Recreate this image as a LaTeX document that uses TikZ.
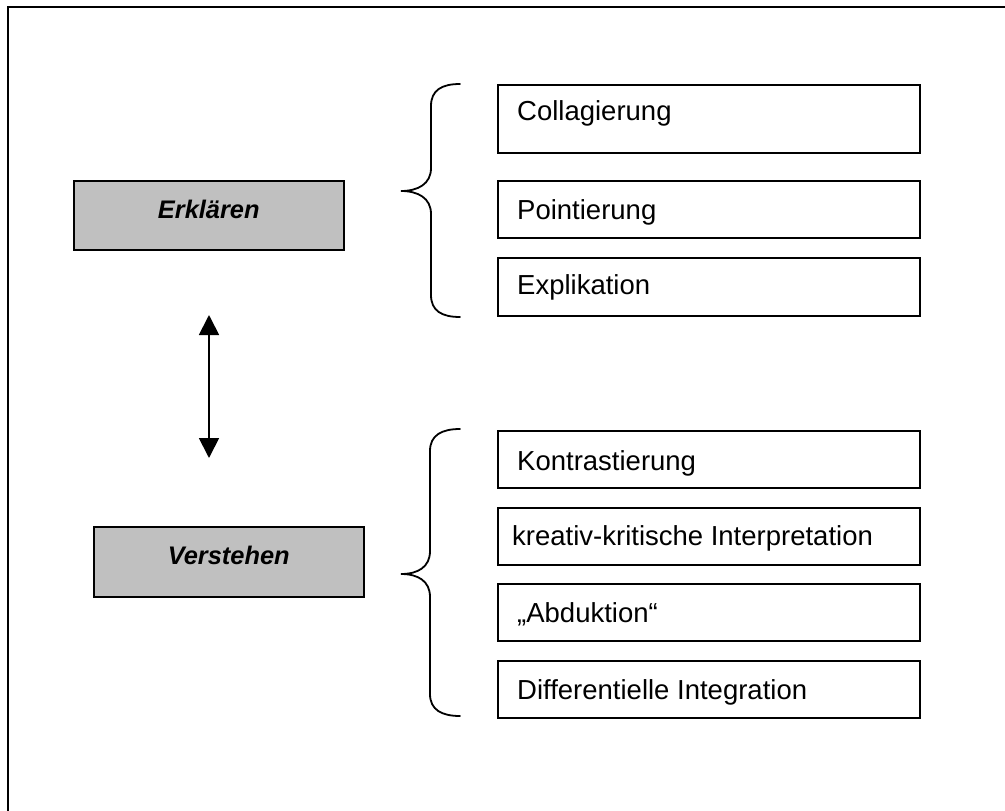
\documentclass[tikz,border=0pt]{standalone}
\usepackage{fontspec}
\setmainfont{Liberation Sans}
\usetikzlibrary{arrows.meta,calc}
\definecolor{boxgray}{HTML}{C0C0C0}
\begin{document}
\begin{tikzpicture}[x=1pt,y=-1pt,
  rbox/.style={draw=black,line width=1.6pt,anchor=north west,inner sep=0pt},
  gbox/.style={draw=black,fill=boxgray,line width=1.6pt,anchor=north west,inner sep=0pt},
  lbl/.style={anchor=base west,inner sep=0pt,font=\fontsize{27.5}{32}\selectfont},
  glbl/.style={anchor=base,inner sep=0pt,font=\fontsize{25.4}{30}\selectfont\bfseries\itshape},
  brace/.style={line width=1.8pt,line cap=round},
  dbl/.style={line width=1.8pt,{Triangle[length=20pt,width=20pt]}-{Triangle[length=20pt,width=20pt]}}]
\useasboundingbox (0,0) rectangle (1005,811);
% frame (only top and left visible)
\draw[line width=2.4pt] (7.8,811) -- (7.8,7) -- (1005,7);
% grey boxes
\node[gbox,minimum width=270pt,minimum height=69pt] (erk) at (73,180) {};
\node[glbl] (erkt) at ($(erk.north)+(0,38)$) {Erklären};
\node[gbox,minimum width=270pt,minimum height=70pt] (ver) at (93,526) {};
\node[glbl] (vert) at ($(ver.north)+(0,38)$) {Verstehen};
% arrow
\coordinate (ar1) at (209,315);
\coordinate (ar2) at (209,458);
\draw[dbl] (ar1) -- (ar2);
% upper boxes
\node[rbox,minimum width=422pt,minimum height=68pt] (b1) at (497,84) {};
\node[lbl] (t1) at ($(b1.north west)+(20,36)$) {Collagierung};
\node[rbox,minimum width=422pt,minimum height=57pt] (b2) at (497,180) {};
\node[lbl] (t2) at ($(b2.north west)+(20,39)$) {Pointierung};
\node[rbox,minimum width=422pt,minimum height=58pt] (b3) at (497,257) {};
\node[lbl] (t3) at ($(b3.north west)+(20,37)$) {Explikation};
% lower boxes
\node[rbox,minimum width=422pt,minimum height=57pt] (b4) at (497,430) {};
\node[lbl] (t4) at ($(b4.north west)+(20,40)$) {Kontrastierung};
\node[rbox,minimum width=422pt,minimum height=57pt] (b5) at (497,507) {};
\node[lbl] (t5) at ($(b5.north west)+(15,38)$) {kreativ-kritische Interpretation};
\node[rbox,minimum width=422pt,minimum height=57pt] (b6) at (497,583) {};
\node[lbl] (t6) at ($(b6.north west)+(20,39)$) {„Abduktion“};
\node[rbox,minimum width=422pt,minimum height=57pt] (b7) at (497,660) {};
\node[lbl] (t7) at ($(b7.north west)+(20,39)$) {Differentielle Integration};
% braces
\draw[brace] (460,84) .. controls (442,84) and (431,90) .. (431,106) -- (431,168)
  .. controls (431,184) and (418,191) .. (401,191)
  .. controls (418,191) and (431,198) .. (431,214) -- (431,295)
  .. controls (431,311) and (442,317) .. (460,317);
\draw[brace] (460,429) .. controls (442,429) and (430,435) .. (430,451) -- (430,551)
  .. controls (430,567) and (418,574) .. (401,574)
  .. controls (418,574) and (430,581) .. (430,597) -- (430,694)
  .. controls (430,710) and (442,716) .. (460,716);
\end{tikzpicture}
\end{document}
